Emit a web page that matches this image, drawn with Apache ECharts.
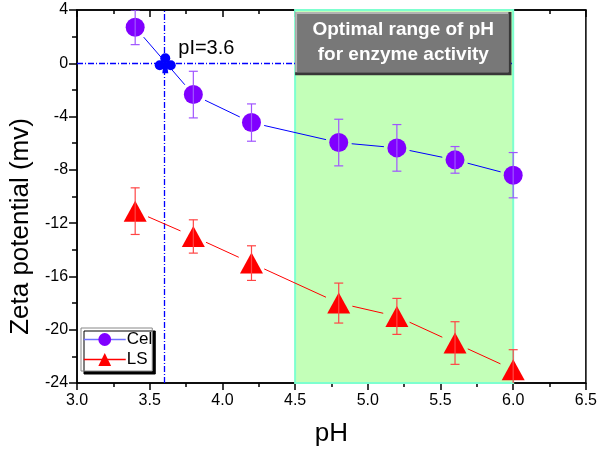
<!DOCTYPE html>
<html><head><meta charset="utf-8">
<script src="https://cdn.jsdelivr.net/npm/echarts@6/dist/echarts.min.js"></script>
<style>html,body{margin:0;padding:0;background:#fff}#c{width:600px;height:452px}</style>
</head><body><div id="c"></div>
<script>
// ---- data ----
const pH = [3.4, 3.8, 4.2, 4.8, 5.2, 5.6, 6.0];
const cellZeta = [2.7, -2.35, -4.45, -5.95, -6.35, -7.25, -8.4];
const cellErr = [1.3, 1.75, 1.4, 1.75, 1.75, 1.0, 1.7];
const lsZeta = [-11.1, -13.0, -15.0, -18.0, -19.0, -21.0, -23.0];
const lsErr = [1.75, 1.25, 1.3, 1.5, 1.35, 1.6, 1.5];
const pI = [3.6, 0];
const optimalRange = [4.5, 6.0];
const xTickLabels = ['3.0','3.5','4.0','4.5','5.0','5.5','6.0','6.5'];
const yTickLabels = ['-24','-20','-16','-12','-8','-4','0','4'];
const boxLines = ['Optimal range of pH', 'for enzyme activity'];

const FONT = 'Liberation Sans, Arial, sans-serif';
const xMin = parseFloat(xTickLabels[0]), xMax = parseFloat(xTickLabels[xTickLabels.length-1]);
const yMin = parseFloat(yTickLabels[0]), yMax = parseFloat(yTickLabels[yTickLabels.length-1]);

function pairs(xs, ys) { return xs.map((x, i) => [x, ys[i]]); }
function errData(xs, ys, es) { return xs.map((x, i) => [x, ys[i], es[i]]); }
// segment i joins point i to point i+1
function segData(xs, ys) { return xs.slice(0, -1).map((x, i) => [x, ys[i], xs[i + 1], ys[i + 1]]); }

function errRender(color) {
  return function (params, api) {
    const x = api.value(0), y = api.value(1), e = api.value(2);
    const top = api.coord([x, y + e]);
    const bot = api.coord([x, y - e]);
    const cw = 4.5;
    const st = { stroke: color, lineWidth: 1.2 };
    return {
      type: 'group',
      children: [
        { type: 'line', shape: { x1: top[0], y1: top[1], x2: bot[0], y2: bot[1] }, style: st },
        { type: 'line', shape: { x1: top[0]-cw, y1: top[1], x2: top[0]+cw, y2: top[1] }, style: st },
        { type: 'line', shape: { x1: bot[0]-cw, y1: bot[1], x2: bot[0]+cw, y2: bot[1] }, style: st }
      ]
    };
  };
}
function segRender(color, gap) {
  return function (params, api) {
    const a = api.coord([api.value(0), api.value(1)]);
    const b = api.coord([api.value(2), api.value(3)]);
    const dx = b[0] - a[0], dy = b[1] - a[1], L = Math.sqrt(dx * dx + dy * dy);
    const ux = dx / L, uy = dy / L;
    return { type: 'line', shape: { x1: a[0] + ux * gap, y1: a[1] + uy * gap, x2: b[0] - ux * gap, y2: b[1] - uy * gap }, style: { stroke: color, lineWidth: 1 } };
  };
}

const chart = echarts.init(document.getElementById('c'), null, { renderer: 'canvas' });
const tickStyle = { color: '#000', width: 1.5 };
chart.setOption({
  animation: false,
  grid: { left: 73, right: 12, top: 10, bottom: 65, show: true, borderColor: '#000', borderWidth: 1.5, backgroundColor: 'transparent' },
  legend: {
    data: [
      { name: 'Cell', lineStyle: { width: 1.5 } },
      { name: 'LS', lineStyle: { width: 1.5 } }
    ],
    orient: 'vertical', left: 81, top: 328,
    padding: [3, 0, 3, 2], itemGap: 3, itemWidth: 42, itemHeight: 16,
    backgroundColor: '#fff', borderColor: '#888', borderWidth: 1,
    shadowColor: '#000', shadowBlur: 0, shadowOffsetX: 3, shadowOffsetY: 3,
    textStyle: { fontSize: 17, color: '#000', fontFamily: FONT, width: 28, overflow: 'truncate', ellipsis: '', padding: [0, 0, 0, -4] }
  },
  xAxis: [{
    type: 'value', min: xMin, max: xMax, interval: 0.5, position: 'bottom',
    axisLine: { onZero: false, lineStyle: tickStyle },
    axisTick: { inside: false, length: 7, lineStyle: tickStyle },
    minorTick: { show: true, splitNumber: 2, length: 4, lineStyle: tickStyle },
    splitLine: { show: false },
    axisLabel: { fontSize: 16, color: '#000', margin: 10, fontFamily: FONT, formatter: v => xTickLabels[Math.round((v - xMin) / 0.5)] },
    name: 'pH', nameLocation: 'middle', nameGap: 38,
    nameTextStyle: { fontSize: 26, color: '#000', fontFamily: FONT }
  }, {
    type: 'value', min: xMin, max: xMax, interval: 0.5, position: 'top',
    axisLine: { show: true, onZero: false, lineStyle: tickStyle },
    axisTick: { inside: true, length: 7, lineStyle: tickStyle },
    minorTick: { show: true, splitNumber: 2, length: 4, lineStyle: tickStyle },
    splitLine: { show: false }, axisLabel: { show: false }
  }],
  yAxis: {
    type: 'value', min: yMin, max: yMax, interval: 4,
    axisLine: { show: true, onZero: false, lineStyle: tickStyle },
    axisTick: { inside: false, length: 8, lineStyle: tickStyle },
    minorTick: { show: true, splitNumber: 2, length: 5, lineStyle: tickStyle },
    splitLine: { show: false },
    axisLabel: { fontSize: 16, color: '#000', margin: 9, fontFamily: FONT, formatter: v => yTickLabels[Math.round((v - yMin) / 4)] },
    name: 'Zeta potential (mv)', nameLocation: 'middle', nameGap: 40,
    nameTextStyle: { fontSize: 26, color: '#000', fontFamily: FONT, padding: [0, 60, 0, 0] }
  },
  series: [
    { // optimal range shading
      type: 'line', data: [], z: 0, silent: true,
      markArea: {
        silent: true,
        itemStyle: { color: '#c3ffb8', borderColor: '#7dffcf', borderWidth: 2 },
        data: [[{ xAxis: optimalRange[0], yAxis: yMin }, { xAxis: optimalRange[1], yAxis: yMax }]]
      }
    },
    { // pI guide lines (dash-dot)
      type: 'custom', z: 1, silent: true, data: [pI],
      renderItem: function (params, api) {
        const px = api.value(0), py = api.value(1);
        const v0 = api.coord([px, yMin]), v1 = api.coord([px, yMax]);
        const h0 = api.coord([xMin, py]), h1 = api.coord([optimalRange[1], py]);
        const vx = Math.round(v0[0]) + 0.5, hy = Math.round(h0[1]) + 0.5;
        const st = { stroke: '#0000ff', lineWidth: 1.3, lineDash: [6, 2, 1, 2] };
        return {
          type: 'group', children: [
            { type: 'line', shape: { x1: vx, y1: v0[1], x2: vx, y2: v1[1] }, style: st },
            { type: 'line', shape: { x1: h0[0], y1: hy, x2: h1[0], y2: hy }, style: st }
          ]
        };
      }
    },
    { // annotation box
      type: 'custom', z: 2, silent: true, data: [[optimalRange[0], optimalRange[1]]],
      renderItem: function (params, api) {
        const a = api.coord([api.value(0), 3.85]);
        const b = api.coord([api.value(1) - 0.012, -0.9]);
        const x = a[0], y = a[1], w = b[0] - a[0], h = b[1] - a[1];
        return {
          type: 'group', children: [
            { type: 'rect', shape: { x: x, y: y, width: w, height: h }, style: { fill: '#383838' } },
            { type: 'rect', shape: { x: x, y: y, width: w - 3, height: h - 3 }, style: { fill: '#b4b4b4' } },
            { type: 'rect', shape: { x: x + 2, y: y + 2, width: w - 5, height: h - 5 }, style: { fill: '#787878' } },
            { type: 'text', x: x + w / 2, y: y + h / 2 - 1, style: { text: boxLines.join('\n'), fill: '#fff', fontSize: 19, fontWeight: 'bold', fontFamily: FONT, align: 'center', verticalAlign: 'middle', lineHeight: 25 } }
          ]
        };
      }
    },
    { type: 'custom', z: 3, silent: true, data: segData(pH, cellZeta), renderItem: segRender('#0000ff', 13) },
    { type: 'custom', z: 3, silent: true, data: segData(pH, lsZeta), renderItem: segRender('#ff0000', 14) },
    {
      name: 'Cell', type: 'line', z: 4, data: pairs(pH, cellZeta),
      symbol: 'circle', symbolSize: 19,
      itemStyle: { color: '#8000ff' },
      lineStyle: { color: '#6f6fff', width: 0 }
    },
    {
      name: 'LS', type: 'line', z: 4, data: pairs(pH, lsZeta),
      symbol: 'triangle', symbolSize: [23, 21],
      itemStyle: { color: '#ff0000' },
      lineStyle: { color: '#ff0000', width: 0 }
    },
    { type: 'custom', z: 5, clip: true, silent: true, data: errData(pH, cellZeta, cellErr), renderItem: errRender('#a055ff') },
    { type: 'custom', z: 5, clip: true, silent: true, data: errData(pH, lsZeta, lsErr), renderItem: errRender('#ff4545') },
    { // pI marker (club) and label
      type: 'custom', z: 6, silent: true, data: [pI],
      renderItem: function (params, api) {
        const p = api.coord([api.value(0), api.value(1)]);
        const cx = p[0] + 1, cy = p[1];
        const fill = { fill: '#0000ff' };
        return {
          type: 'group', children: [
            { type: 'circle', shape: { cx: cx, cy: cy - 5, r: 5 }, style: fill },
            { type: 'circle', shape: { cx: cx - 5.5, cy: cy + 2, r: 5 }, style: fill },
            { type: 'circle', shape: { cx: cx + 5.5, cy: cy + 2, r: 5 }, style: fill },
            { type: 'polygon', shape: { points: [[cx - 1.5, cy - 1], [cx + 1.5, cy - 1], [cx + 3, cy + 10], [cx - 3, cy + 10]] }, style: fill },
            { type: 'text', x: p[0] + 14, y: p[1] - 15, style: { text: 'pI=' + api.value(0), fontSize: 20, fill: '#000', verticalAlign: 'middle', fontFamily: FONT } }
          ]
        };
      }
    }
  ]
});
</script></body></html>
